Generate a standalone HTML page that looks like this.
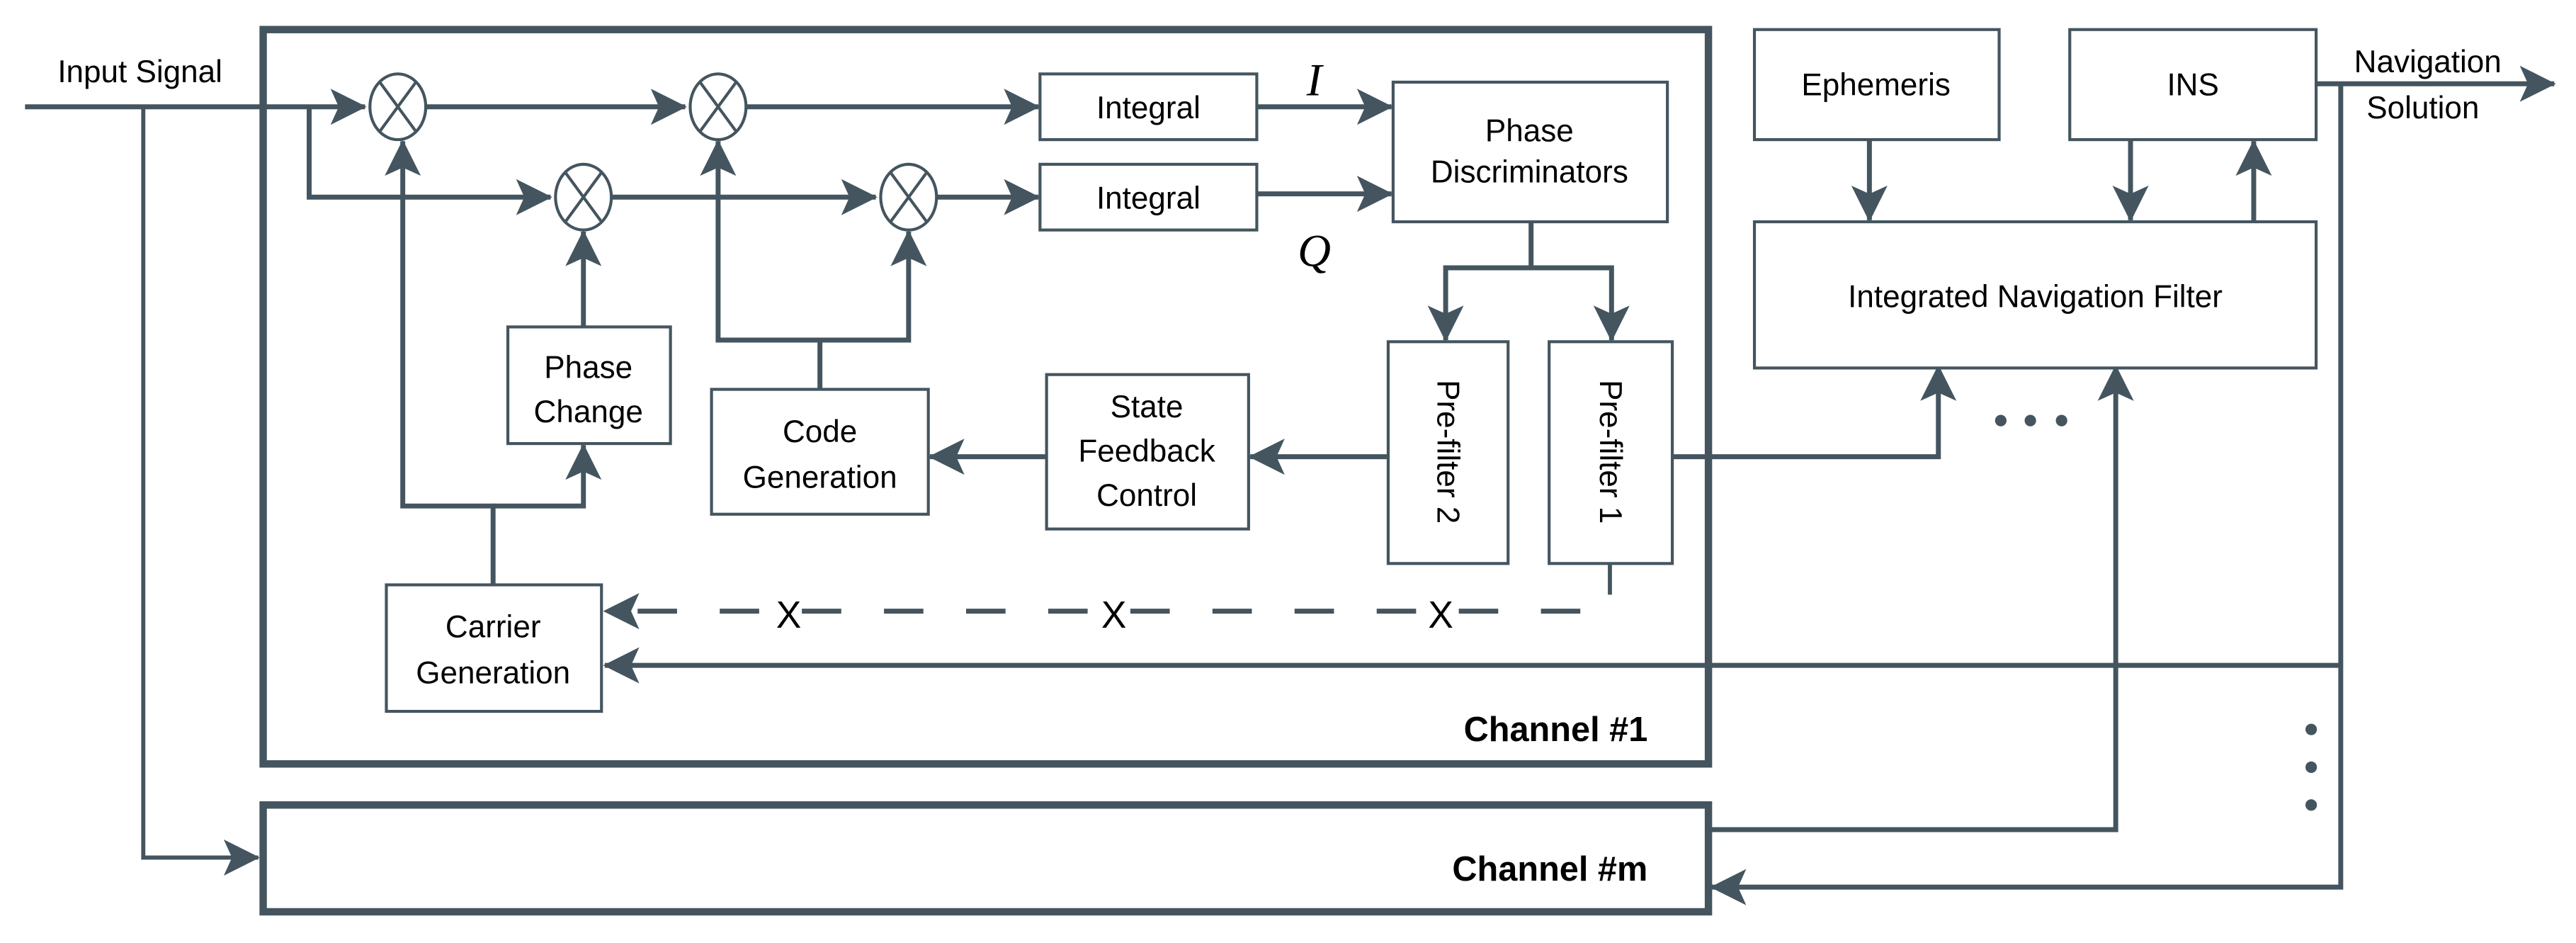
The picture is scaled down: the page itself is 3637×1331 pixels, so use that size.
<!DOCTYPE html>
<html><head><meta charset="utf-8"><style>html,body{margin:0;padding:0;background:#fff}svg{display:block}</style></head>
<body>
<svg width="3637" height="1331" viewBox="0 0 1568 574" xmlns="http://www.w3.org/2000/svg" font-family="'Liberation Sans', sans-serif">
<defs>
<marker id="b" markerWidth="22" markerHeight="22" refX="21" refY="11" orient="auto" markerUnits="userSpaceOnUse" viewBox="0 0 22 22">
<path d="M0,0 L22,11 L0,22 L5,11 Z" fill="#44555f"/>
</marker>
</defs>
<g stroke="#44555f" fill="none" stroke-width="3">
<rect x="160" y="18" width="880" height="447" stroke-width="4.5"/>
<rect x="160" y="490" width="880" height="65" stroke-width="4.5"/>
<path d="M15,65 L222,65" marker-end="url(#b)"/>
<path d="M87,65 L87,522 L157,522" marker-end="url(#b)" stroke-width="2.5"/>
<path d="M188,65 L188,120 L335,120" marker-end="url(#b)"/>
<path d="M259,65 L417,65" marker-end="url(#b)"/>
<path d="M454,65 L632,65" marker-end="url(#b)"/>
<path d="M372,120 L533,120" marker-end="url(#b)"/>
<path d="M570,120 L632,120" marker-end="url(#b)"/>
<path d="M765,65 L847,65" marker-end="url(#b)"/>
<path d="M765,118 L847,118" marker-end="url(#b)"/>
<path d="M932,135 L932,163 L880,163 L880,207" marker-end="url(#b)"/>
<path d="M932,163 L981,163 L981,207" marker-end="url(#b)"/>
<path d="M845,278 L761,278" marker-end="url(#b)"/>
<path d="M637,278 L566,278" marker-end="url(#b)"/>
<path d="M499,237 L499,207 L437,207 L437,86" marker-end="url(#b)"/>
<path d="M499,207 L553,207 L553,141" marker-end="url(#b)"/>
<path d="M355,199 L355,141" marker-end="url(#b)"/>
<path d="M300,356 L300,308 L245,308 L245,86" marker-end="url(#b)"/>
<path d="M300,308 L355,308 L355,271" marker-end="url(#b)"/>
<path d="M980,343 L980,362" stroke-width="2.5"/>
<path d="M962,372 L368,372" stroke-dasharray="24,26" marker-end="url(#b)"/>
<path d="M1018,278 L1180,278 L1180,223" marker-end="url(#b)"/>
<path d="M1040,505 L1288,505 L1288,223" marker-end="url(#b)"/>
<path d="M1138,85 L1138,134" marker-end="url(#b)"/>
<path d="M1297,85 L1297,134" marker-end="url(#b)"/>
<path d="M1372,135 L1372,86" marker-end="url(#b)"/>
<path d="M1410,51 L1555,51" marker-end="url(#b)"/>
<path d="M1425,51 L1425,540 L1042,540" marker-end="url(#b)"/>
<path d="M1425,405 L368,405" marker-end="url(#b)"/>
<g stroke-width="1.8" fill="#fff">
<rect x="633" y="45" width="132" height="40"/>
<rect x="633" y="100" width="132" height="40"/>
<rect x="848" y="50" width="167" height="85"/>
<rect x="845" y="208" width="73" height="135"/>
<rect x="943" y="208" width="75" height="135"/>
<rect x="637" y="228" width="123" height="94"/>
<rect x="433" y="237" width="132" height="76"/>
<rect x="309" y="199" width="99" height="71"/>
<rect x="235" y="356" width="131" height="77"/>
<rect x="1068" y="135" width="342" height="89"/>
<rect x="1068" y="18" width="149" height="67"/>
<rect x="1260" y="18" width="150" height="67"/>
</g>
<g stroke-width="1.8" fill="#fff">
<ellipse cx="242" cy="65" rx="17" ry="20"/>
<ellipse cx="437" cy="65" rx="17" ry="20"/>
<ellipse cx="355" cy="120" rx="17" ry="20"/>
<ellipse cx="553" cy="120" rx="17" ry="20"/>
</g>
<g stroke-width="1.8">
<path d="M231,50 L253,80 M253,50 L231,80"/>
<path d="M426,50 L448,80 M448,50 L426,80"/>
<path d="M344,105 L366,135 M366,105 L344,135"/>
<path d="M542,105 L564,135 M564,105 L542,135"/>
</g>
</g>
<g fill="#44555f">
<circle cx="1218" cy="256" r="3.5"/><circle cx="1236" cy="256" r="3.5"/><circle cx="1255" cy="256" r="3.5"/>
<circle cx="1407" cy="444" r="3.5"/><circle cx="1407" cy="467" r="3.5"/><circle cx="1407" cy="490" r="3.5"/>
</g>
<g fill="#000" font-size="19" text-anchor="middle">
<text x="85" y="50">Input Signal</text>
<text x="699" y="72">Integral</text>
<text x="699" y="127">Integral</text>
<text x="931" y="86">Phase</text>
<text x="931" y="111">Discriminators</text>
<text x="698" y="254">State</text>
<text x="698" y="281">Feedback</text>
<text x="698" y="308">Control</text>
<text x="499" y="269">Code</text>
<text x="499" y="297">Generation</text>
<text x="358" y="230">Phase</text>
<text x="358" y="257">Change</text>
<text x="300" y="388">Carrier</text>
<text x="300" y="416">Generation</text>
<text x="1142" y="58">Ephemeris</text>
<text x="1335" y="58">INS</text>
<text x="1239" y="187">Integrated Navigation Filter</text>
<text x="1478" y="44">Navigation</text>
<text x="1475" y="72">Solution</text>
<text transform="translate(875,275) rotate(90)">Pre-filter 2</text>
<text transform="translate(974,275) rotate(90)">Pre-filter 1</text>
<text x="480" y="382" font-size="23">X</text>
<text x="678" y="382" font-size="23">X</text>
<text x="877" y="382" font-size="23">X</text>
<text x="800" y="58" font-family="'Liberation Serif', serif" font-style="italic" font-size="28">I</text>
<text x="800" y="162" font-family="'Liberation Serif', serif" font-style="italic" font-size="28">Q</text>
<text x="1003" y="451" font-weight="bold" font-size="21" text-anchor="end">Channel #1</text>
<text x="1003" y="536" font-weight="bold" font-size="21" text-anchor="end">Channel #m</text>
</g>
</svg>
</body></html>
